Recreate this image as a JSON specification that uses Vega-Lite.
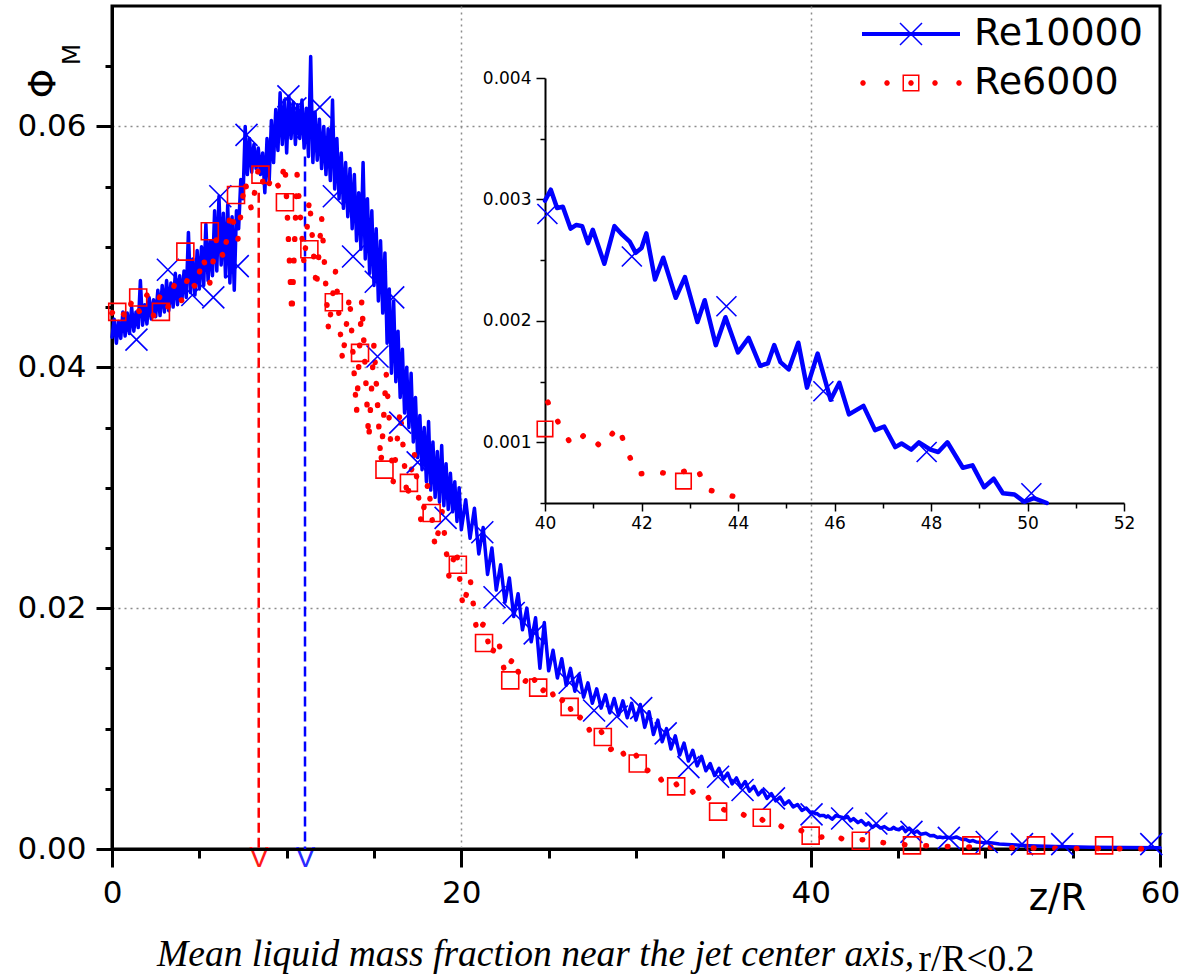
{
"$schema": "https://vega.github.io/schema/vega-lite/v6.json",
"width": 1048,
"height": 843,
"autosize": "none",
"padding": {"left": 112, "top": 6, "right": 23, "bottom": 128},
"background": "white",
"config": {"view": {"stroke": "black", "strokeWidth": 3}, "font": "DejaVu Sans"},
"title": {"text": "Mean liquid mass fraction near the jet center axis,", "orient": "bottom", "anchor": "start", "frame": "group", "dx": 45, "offset": -42, "font": "Liberation Serif", "fontStyle": "italic", "fontWeight": "normal", "fontSize": 37.5, "color": "black"},
"datasets": {
"lines": [
{"s":"Re10000","z":0,"p":0.0425},{"s":"Re10000","z":0.125,"p":0.044},{"s":"Re10000","z":0.25,"p":0.042},{"s":"Re10000","z":0.375,"p":0.0438},{"s":"Re10000","z":0.5,"p":0.0424},{"s":"Re10000","z":0.625,"p":0.0446},{"s":"Re10000","z":0.75,"p":0.0426},{"s":"Re10000","z":0.875,"p":0.0445},{"s":"Re10000","z":1,"p":0.0428},{"s":"Re10000","z":1.125,"p":0.045},{"s":"Re10000","z":1.25,"p":0.043},{"s":"Re10000","z":1.375,"p":0.0446},{"s":"Re10000","z":1.5,"p":0.0433},{"s":"Re10000","z":1.625,"p":0.0472},{"s":"Re10000","z":1.75,"p":0.0435},{"s":"Re10000","z":1.875,"p":0.0452},{"s":"Re10000","z":2,"p":0.0436},{"s":"Re10000","z":2.125,"p":0.0458},{"s":"Re10000","z":2.25,"p":0.044},{"s":"Re10000","z":2.375,"p":0.0456},{"s":"Re10000","z":2.5,"p":0.0442},{"s":"Re10000","z":2.625,"p":0.0464},{"s":"Re10000","z":2.75,"p":0.0443},{"s":"Re10000","z":2.875,"p":0.0468},{"s":"Re10000","z":3,"p":0.0446},{"s":"Re10000","z":3.125,"p":0.0472},{"s":"Re10000","z":3.25,"p":0.0447},{"s":"Re10000","z":3.375,"p":0.047},{"s":"Re10000","z":3.5,"p":0.045},{"s":"Re10000","z":3.625,"p":0.0478},{"s":"Re10000","z":3.75,"p":0.0452},{"s":"Re10000","z":3.875,"p":0.0476},{"s":"Re10000","z":4,"p":0.0455},{"s":"Re10000","z":4.125,"p":0.048},{"s":"Re10000","z":4.25,"p":0.0458},{"s":"Re10000","z":4.375,"p":0.0512},{"s":"Re10000","z":4.5,"p":0.0462},{"s":"Re10000","z":4.625,"p":0.049},{"s":"Re10000","z":4.75,"p":0.046},{"s":"Re10000","z":4.875,"p":0.0497},{"s":"Re10000","z":5,"p":0.0465},{"s":"Re10000","z":5.125,"p":0.05},{"s":"Re10000","z":5.25,"p":0.0468},{"s":"Re10000","z":5.375,"p":0.0519},{"s":"Re10000","z":5.5,"p":0.0472},{"s":"Re10000","z":5.625,"p":0.0505},{"s":"Re10000","z":5.75,"p":0.0476},{"s":"Re10000","z":5.875,"p":0.053},{"s":"Re10000","z":6,"p":0.048},{"s":"Re10000","z":6.125,"p":0.0542},{"s":"Re10000","z":6.25,"p":0.0485},{"s":"Re10000","z":6.375,"p":0.0528},{"s":"Re10000","z":6.5,"p":0.0475},{"s":"Re10000","z":6.625,"p":0.0535},{"s":"Re10000","z":6.75,"p":0.047},{"s":"Re10000","z":6.875,"p":0.0525},{"s":"Re10000","z":7,"p":0.0464},{"s":"Re10000","z":7.125,"p":0.053},{"s":"Re10000","z":7.25,"p":0.0515},{"s":"Re10000","z":7.375,"p":0.0556},{"s":"Re10000","z":7.5,"p":0.054},{"s":"Re10000","z":7.625,"p":0.06},{"s":"Re10000","z":7.75,"p":0.056},{"s":"Re10000","z":7.875,"p":0.059},{"s":"Re10000","z":8,"p":0.0562},{"s":"Re10000","z":8.125,"p":0.0585},{"s":"Re10000","z":8.25,"p":0.0565},{"s":"Re10000","z":8.375,"p":0.0582},{"s":"Re10000","z":8.5,"p":0.056},{"s":"Re10000","z":8.625,"p":0.0578},{"s":"Re10000","z":8.75,"p":0.0545},{"s":"Re10000","z":8.875,"p":0.059},{"s":"Re10000","z":9,"p":0.0555},{"s":"Re10000","z":9.125,"p":0.0605},{"s":"Re10000","z":9.25,"p":0.057},{"s":"Re10000","z":9.375,"p":0.0614},{"s":"Re10000","z":9.5,"p":0.058},{"s":"Re10000","z":9.625,"p":0.0628},{"s":"Re10000","z":9.75,"p":0.0585},{"s":"Re10000","z":9.875,"p":0.0622},{"s":"Re10000","z":10,"p":0.0578},{"s":"Re10000","z":10.125,"p":0.0625},{"s":"Re10000","z":10.25,"p":0.059},{"s":"Re10000","z":10.375,"p":0.062},{"s":"Re10000","z":10.5,"p":0.0585},{"s":"Re10000","z":10.625,"p":0.0618},{"s":"Re10000","z":10.75,"p":0.059},{"s":"Re10000","z":10.875,"p":0.0622},{"s":"Re10000","z":11,"p":0.0582},{"s":"Re10000","z":11.125,"p":0.0615},{"s":"Re10000","z":11.25,"p":0.0575},{"s":"Re10000","z":11.375,"p":0.0658},{"s":"Re10000","z":11.5,"p":0.057},{"s":"Re10000","z":11.625,"p":0.0612},{"s":"Re10000","z":11.75,"p":0.0572},{"s":"Re10000","z":11.875,"p":0.0606},{"s":"Re10000","z":12,"p":0.0565},{"s":"Re10000","z":12.125,"p":0.06},{"s":"Re10000","z":12.25,"p":0.056},{"s":"Re10000","z":12.375,"p":0.0598},{"s":"Re10000","z":12.5,"p":0.0555},{"s":"Re10000","z":12.625,"p":0.0622},{"s":"Re10000","z":12.75,"p":0.0548},{"s":"Re10000","z":12.875,"p":0.059},{"s":"Re10000","z":13,"p":0.054},{"s":"Re10000","z":13.125,"p":0.0578},{"s":"Re10000","z":13.25,"p":0.0532},{"s":"Re10000","z":13.375,"p":0.057},{"s":"Re10000","z":13.5,"p":0.0525},{"s":"Re10000","z":13.625,"p":0.0565},{"s":"Re10000","z":13.75,"p":0.0515},{"s":"Re10000","z":13.875,"p":0.056},{"s":"Re10000","z":14,"p":0.0505},{"s":"Re10000","z":14.125,"p":0.0545},{"s":"Re10000","z":14.25,"p":0.0498},{"s":"Re10000","z":14.375,"p":0.057},{"s":"Re10000","z":14.5,"p":0.049},{"s":"Re10000","z":14.625,"p":0.054},{"s":"Re10000","z":14.75,"p":0.0478},{"s":"Re10000","z":14.875,"p":0.053},{"s":"Re10000","z":15,"p":0.0468},{"s":"Re10000","z":15.125,"p":0.0515},{"s":"Re10000","z":15.25,"p":0.0455},{"s":"Re10000","z":15.375,"p":0.0505},{"s":"Re10000","z":15.5,"p":0.0445},{"s":"Re10000","z":15.625,"p":0.0495},{"s":"Re10000","z":15.75,"p":0.042},{"s":"Re10000","z":15.875,"p":0.0465},{"s":"Re10000","z":16,"p":0.0395},{"s":"Re10000","z":16.125,"p":0.0455},{"s":"Re10000","z":16.25,"p":0.0388},{"s":"Re10000","z":16.375,"p":0.043},{"s":"Re10000","z":16.5,"p":0.0375},{"s":"Re10000","z":16.625,"p":0.0415},{"s":"Re10000","z":16.75,"p":0.0362},{"s":"Re10000","z":16.875,"p":0.04},{"s":"Re10000","z":17,"p":0.035},{"s":"Re10000","z":17.125,"p":0.0395},{"s":"Re10000","z":17.25,"p":0.0338},{"s":"Re10000","z":17.375,"p":0.0375},{"s":"Re10000","z":17.5,"p":0.0325},{"s":"Re10000","z":17.625,"p":0.036},{"s":"Re10000","z":17.75,"p":0.0315},{"s":"Re10000","z":17.875,"p":0.035},{"s":"Re10000","z":18,"p":0.0305},{"s":"Re10000","z":18.125,"p":0.0355},{"s":"Re10000","z":18.25,"p":0.0298},{"s":"Re10000","z":18.375,"p":0.0338},{"s":"Re10000","z":18.5,"p":0.0292},{"s":"Re10000","z":18.625,"p":0.033},{"s":"Re10000","z":18.75,"p":0.0288},{"s":"Re10000","z":18.875,"p":0.0335},{"s":"Re10000","z":19,"p":0.0285},{"s":"Re10000","z":19.125,"p":0.032},{"s":"Re10000","z":19.25,"p":0.0282},{"s":"Re10000","z":19.375,"p":0.0312},{"s":"Re10000","z":19.5,"p":0.028},{"s":"Re10000","z":19.625,"p":0.0305},{"s":"Re10000","z":19.75,"p":0.0272},{"s":"Re10000","z":19.875,"p":0.03},{"s":"Re10000","z":20,"p":0.0265},{"s":"Re10000","z":20.25,"p":0.029},{"s":"Re10000","z":20.5,"p":0.0258},{"s":"Re10000","z":20.75,"p":0.0283},{"s":"Re10000","z":21,"p":0.0245},{"s":"Re10000","z":21.25,"p":0.0267},{"s":"Re10000","z":21.5,"p":0.0228},{"s":"Re10000","z":21.75,"p":0.025},{"s":"Re10000","z":22,"p":0.0215},{"s":"Re10000","z":22.25,"p":0.0236},{"s":"Re10000","z":22.5,"p":0.0205},{"s":"Re10000","z":22.75,"p":0.0225},{"s":"Re10000","z":23,"p":0.0193},{"s":"Re10000","z":23.25,"p":0.0212},{"s":"Re10000","z":23.5,"p":0.0182},{"s":"Re10000","z":23.75,"p":0.02},{"s":"Re10000","z":24,"p":0.0172},{"s":"Re10000","z":24.25,"p":0.0192},{"s":"Re10000","z":24.5,"p":0.015},{"s":"Re10000","z":24.75,"p":0.0188},{"s":"Re10000","z":25,"p":0.0148},{"s":"Re10000","z":25.25,"p":0.0165},{"s":"Re10000","z":25.5,"p":0.0142},{"s":"Re10000","z":25.75,"p":0.0158},{"s":"Re10000","z":26,"p":0.0136},{"s":"Re10000","z":26.25,"p":0.015},{"s":"Re10000","z":26.5,"p":0.0131},{"s":"Re10000","z":26.75,"p":0.0145},{"s":"Re10000","z":27,"p":0.0126},{"s":"Re10000","z":27.25,"p":0.0138},{"s":"Re10000","z":27.5,"p":0.0121},{"s":"Re10000","z":27.75,"p":0.0133},{"s":"Re10000","z":28,"p":0.0117},{"s":"Re10000","z":28.25,"p":0.0128},{"s":"Re10000","z":28.5,"p":0.0113},{"s":"Re10000","z":28.75,"p":0.0125},{"s":"Re10000","z":29,"p":0.0111},{"s":"Re10000","z":29.25,"p":0.0123},{"s":"Re10000","z":29.5,"p":0.0109},{"s":"Re10000","z":29.75,"p":0.0121},{"s":"Re10000","z":30,"p":0.0107},{"s":"Re10000","z":30.25,"p":0.012},{"s":"Re10000","z":30.5,"p":0.0101},{"s":"Re10000","z":30.75,"p":0.0114},{"s":"Re10000","z":31,"p":0.0095},{"s":"Re10000","z":31.25,"p":0.0107},{"s":"Re10000","z":31.5,"p":0.0089},{"s":"Re10000","z":31.75,"p":0.01},{"s":"Re10000","z":32,"p":0.0083},{"s":"Re10000","z":32.25,"p":0.0094},{"s":"Re10000","z":32.5,"p":0.0078},{"s":"Re10000","z":32.75,"p":0.0088},{"s":"Re10000","z":33,"p":0.0073},{"s":"Re10000","z":33.25,"p":0.0082},{"s":"Re10000","z":33.5,"p":0.0069},{"s":"Re10000","z":33.75,"p":0.0077},{"s":"Re10000","z":34,"p":0.0065},{"s":"Re10000","z":34.25,"p":0.0071},{"s":"Re10000","z":34.5,"p":0.0061},{"s":"Re10000","z":34.75,"p":0.0067},{"s":"Re10000","z":35,"p":0.0058},{"s":"Re10000","z":35.25,"p":0.0063},{"s":"Re10000","z":35.5,"p":0.0054},{"s":"Re10000","z":35.75,"p":0.0059},{"s":"Re10000","z":36,"p":0.0051},{"s":"Re10000","z":36.25,"p":0.0056},{"s":"Re10000","z":36.5,"p":0.0048},{"s":"Re10000","z":36.75,"p":0.0052},{"s":"Re10000","z":37,"p":0.0045},{"s":"Re10000","z":37.25,"p":0.0049},{"s":"Re10000","z":37.5,"p":0.0042},{"s":"Re10000","z":37.75,"p":0.0046},{"s":"Re10000","z":38,"p":0.004},{"s":"Re10000","z":38.25,"p":0.0043},{"s":"Re10000","z":38.5,"p":0.0037},{"s":"Re10000","z":38.75,"p":0.004},{"s":"Re10000","z":39,"p":0.0035},{"s":"Re10000","z":39.25,"p":0.0037},{"s":"Re10000","z":39.5,"p":0.0032},{"s":"Re10000","z":39.75,"p":0.0034},
{"s":"Re10000","z":40,"p":0.00299},{"s":"Re10000","z":40.12,"p":0.00308},{"s":"Re10000","z":40.25,"p":0.00293},{"s":"Re10000","z":40.37,"p":0.00294},{"s":"Re10000","z":40.53,"p":0.00276},{"s":"Re10000","z":40.65,"p":0.00279},{"s":"Re10000","z":40.77,"p":0.00278},{"s":"Re10000","z":40.89,"p":0.00264},{"s":"Re10000","z":40.99,"p":0.00275},{"s":"Re10000","z":41.23,"p":0.00247},{"s":"Re10000","z":41.44,"p":0.00278},{"s":"Re10000","z":41.6,"p":0.00271},{"s":"Re10000","z":41.76,"p":0.00265},{"s":"Re10000","z":41.88,"p":0.00256},{"s":"Re10000","z":42,"p":0.0026},{"s":"Re10000","z":42.1,"p":0.00272},{"s":"Re10000","z":42.28,"p":0.00234},{"s":"Re10000","z":42.45,"p":0.00252},{"s":"Re10000","z":42.71,"p":0.00219},{"s":"Re10000","z":42.9,"p":0.00236},{"s":"Re10000","z":43.16,"p":0.00199},{"s":"Re10000","z":43.31,"p":0.00217},{"s":"Re10000","z":43.54,"p":0.0018},{"s":"Re10000","z":43.74,"p":0.00203},{"s":"Re10000","z":44,"p":0.00174},{"s":"Re10000","z":44.22,"p":0.00186},{"s":"Re10000","z":44.46,"p":0.00163},{"s":"Re10000","z":44.62,"p":0.00165},{"s":"Re10000","z":44.75,"p":0.0018},{"s":"Re10000","z":44.88,"p":0.00166},{"s":"Re10000","z":45.05,"p":0.0016},{"s":"Re10000","z":45.25,"p":0.00182},{"s":"Re10000","z":45.43,"p":0.00145},{"s":"Re10000","z":45.65,"p":0.00173},{"s":"Re10000","z":45.92,"p":0.00135},{"s":"Re10000","z":46.1,"p":0.00149},{"s":"Re10000","z":46.3,"p":0.00123},{"s":"Re10000","z":46.6,"p":0.0013},{"s":"Re10000","z":46.84,"p":0.0011},{"s":"Re10000","z":47.03,"p":0.00113},{"s":"Re10000","z":47.26,"p":0.00096},{"s":"Re10000","z":47.39,"p":0.00099},{"s":"Re10000","z":47.59,"p":0.00094},{"s":"Re10000","z":47.75,"p":0.001},{"s":"Re10000","z":47.99,"p":0.00094},{"s":"Re10000","z":48.15,"p":0.00092},{"s":"Re10000","z":48.34,"p":0.001},{"s":"Re10000","z":48.66,"p":0.00079},{"s":"Re10000","z":48.86,"p":0.00081},{"s":"Re10000","z":49.1,"p":0.00063},{"s":"Re10000","z":49.3,"p":0.0007},{"s":"Re10000","z":49.49,"p":0.00058},{"s":"Re10000","z":49.73,"p":0.00057},{"s":"Re10000","z":49.93,"p":0.00051},{"s":"Re10000","z":50.13,"p":0.00054},{"s":"Re10000","z":50.4,"p":0.0005},{"s":"Re10000","z":50.8,"p":0.00042},{"s":"Re10000","z":51.5,"p":0.00035},{"s":"Re10000","z":52.5,"p":0.00028},{"s":"Re10000","z":54,"p":0.0002},{"s":"Re10000","z":56,"p":0.00015},{"s":"Re10000","z":58,"p":0.00012},{"s":"Re10000","z":60,"p":0.0001},
{"s":"Re6000","z":0,"p":0.0445},{"s":"Re6000","z":0.4,"p":0.0452},{"s":"Re6000","z":0.8,"p":0.044},{"s":"Re6000","z":1.2,"p":0.0458},{"s":"Re6000","z":1.6,"p":0.0445},{"s":"Re6000","z":2,"p":0.046},{"s":"Re6000","z":2.4,"p":0.0442},{"s":"Re6000","z":2.8,"p":0.0462},{"s":"Re6000","z":3.2,"p":0.045},{"s":"Re6000","z":3.6,"p":0.047},{"s":"Re6000","z":4,"p":0.0455},{"s":"Re6000","z":4.4,"p":0.0478},{"s":"Re6000","z":4.8,"p":0.0465},{"s":"Re6000","z":5.2,"p":0.0492},{"s":"Re6000","z":5.6,"p":0.047},{"s":"Re6000","z":6,"p":0.0508},{"s":"Re6000","z":6.4,"p":0.049},{"s":"Re6000","z":6.8,"p":0.053},{"s":"Re6000","z":7.2,"p":0.0505},{"s":"Re6000","z":7.6,"p":0.0555},{"s":"Re6000","z":8,"p":0.053},{"s":"Re6000","z":8.4,"p":0.0567},{"s":"Re6000","z":8.8,"p":0.0545},{"s":"Re6000","z":9.2,"p":0.056},{"s":"Re6000","z":9.6,"p":0.0548},{"s":"Re6000","z":9.9,"p":0.057},{"s":"Re6000","z":10.3,"p":0.0444},{"s":"Re6000","z":10.6,"p":0.056},{"s":"Re6000","z":11,"p":0.0485},{"s":"Re6000","z":11.3,"p":0.054},{"s":"Re6000","z":11.7,"p":0.0465},{"s":"Re6000","z":12,"p":0.0525},{"s":"Re6000","z":12.4,"p":0.043},{"s":"Re6000","z":12.8,"p":0.048},{"s":"Re6000","z":13.2,"p":0.0405},{"s":"Re6000","z":13.6,"p":0.046},{"s":"Re6000","z":14,"p":0.0362},{"s":"Re6000","z":14.3,"p":0.0456},{"s":"Re6000","z":14.7,"p":0.034},{"s":"Re6000","z":15,"p":0.042},{"s":"Re6000","z":15.4,"p":0.032},{"s":"Re6000","z":15.7,"p":0.0395},{"s":"Re6000","z":16.1,"p":0.0305},{"s":"Re6000","z":16.5,"p":0.0365},{"s":"Re6000","z":16.9,"p":0.029},{"s":"Re6000","z":17.3,"p":0.033},{"s":"Re6000","z":17.7,"p":0.027},{"s":"Re6000","z":18.1,"p":0.0305},{"s":"Re6000","z":18.5,"p":0.025},{"s":"Re6000","z":18.9,"p":0.028},{"s":"Re6000","z":19.3,"p":0.0225},{"s":"Re6000","z":19.7,"p":0.025},{"s":"Re6000","z":20.1,"p":0.02},{"s":"Re6000","z":20.5,"p":0.0225},{"s":"Re6000","z":20.9,"p":0.0178},{"s":"Re6000","z":21.3,"p":0.0188},{"s":"Re6000","z":21.7,"p":0.016},{"s":"Re6000","z":22.1,"p":0.0175},{"s":"Re6000","z":22.5,"p":0.0145},{"s":"Re6000","z":23,"p":0.016},{"s":"Re6000","z":23.5,"p":0.0135},{"s":"Re6000","z":24,"p":0.0148},{"s":"Re6000","z":24.5,"p":0.0128},{"s":"Re6000","z":25,"p":0.0138},{"s":"Re6000","z":25.5,"p":0.0118},{"s":"Re6000","z":26,"p":0.0128},{"s":"Re6000","z":26.5,"p":0.0105},{"s":"Re6000","z":27,"p":0.0112},{"s":"Re6000","z":27.5,"p":0.0092},{"s":"Re6000","z":28,"p":0.0098},{"s":"Re6000","z":28.5,"p":0.0082},{"s":"Re6000","z":29,"p":0.0088},{"s":"Re6000","z":29.5,"p":0.0072},{"s":"Re6000","z":30,"p":0.0078},{"s":"Re6000","z":30.5,"p":0.0064},{"s":"Re6000","z":31,"p":0.0068},{"s":"Re6000","z":31.5,"p":0.0056},{"s":"Re6000","z":32,"p":0.006},{"s":"Re6000","z":32.5,"p":0.005},{"s":"Re6000","z":33,"p":0.0052},{"s":"Re6000","z":33.5,"p":0.0043},{"s":"Re6000","z":34,"p":0.0046},{"s":"Re6000","z":34.5,"p":0.0034},{"s":"Re6000","z":35,"p":0.0033},{"s":"Re6000","z":35.5,"p":0.0029},{"s":"Re6000","z":36,"p":0.003},{"s":"Re6000","z":36.5,"p":0.0025},{"s":"Re6000","z":37,"p":0.0027},{"s":"Re6000","z":37.5,"p":0.0021},{"s":"Re6000","z":38,"p":0.0022},{"s":"Re6000","z":38.5,"p":0.0017},{"s":"Re6000","z":39,"p":0.0018},{"s":"Re6000","z":39.5,"p":0.0015},{"s":"Re6000","z":40.06,"p":0.00133},{"s":"Re6000","z":40.28,"p":0.00116},{"s":"Re6000","z":40.56,"p":0.00097},{"s":"Re6000","z":40.87,"p":0.00108},{"s":"Re6000","z":41.16,"p":0.00096},{"s":"Re6000","z":41.52,"p":0.00113},{"s":"Re6000","z":41.72,"p":0.00091},{"s":"Re6000","z":41.92,"p":0.00074},{"s":"Re6000","z":42.37,"p":0.00075},{"s":"Re6000","z":42.75,"p":0.00074},{"s":"Re6000","z":43.13,"p":0.0008},{"s":"Re6000","z":43.37,"p":0.00061},{"s":"Re6000","z":44.14,"p":0.00053},{"s":"Re6000","z":44.5,"p":0.00045},{"s":"Re6000","z":45,"p":0.0004},{"s":"Re6000","z":46,"p":0.0003},{"s":"Re6000","z":47,"p":0.00025},{"s":"Re6000","z":48,"p":0.0002},{"s":"Re6000","z":50,"p":0.00015},{"s":"Re6000","z":52,"p":0.0001},{"s":"Re6000","z":55,"p":0.00005},{"s":"Re6000","z":60,"p":0}
],
"markers": [
{"s":"Re10000","z":1.4,"p":0.0423},{"s":"Re10000","z":3.2,"p":0.0481},{"s":"Re10000","z":4.6,"p":0.046},{"s":"Re10000","z":5.8,"p":0.0458},{"s":"Re10000","z":6.2,"p":0.0542},{"s":"Re10000","z":7.2,"p":0.0484},{"s":"Re10000","z":7.7,"p":0.0593},{"s":"Re10000","z":10.1,"p":0.0625},{"s":"Re10000","z":10.5,"p":0.0615},{"s":"Re10000","z":11.1,"p":0.0598},{"s":"Re10000","z":11.9,"p":0.0616},{"s":"Re10000","z":12.7,"p":0.0542},{"s":"Re10000","z":13.8,"p":0.0492},{"s":"Re10000","z":15.1,"p":0.0471},{"s":"Re10000","z":15.2,"p":0.0409},{"s":"Re10000","z":16.1,"p":0.0458},{"s":"Re10000","z":16.5,"p":0.0354},{"s":"Re10000","z":17.5,"p":0.0321},{"s":"Re10000","z":19.1,"p":0.0275},{"s":"Re10000","z":21.2,"p":0.0263},{"s":"Re10000","z":21.9,"p":0.0209},{"s":"Re10000","z":23,"p":0.0196},{"s":"Re10000","z":24.2,"p":0.0179},{"s":"Re10000","z":26.2,"p":0.0138},{"s":"Re10000","z":27.6,"p":0.0115},{"s":"Re10000","z":28.9,"p":0.011},{"s":"Re10000","z":30.3,"p":0.0117},{"s":"Re10000","z":31.7,"p":0.0096},{"s":"Re10000","z":33,"p":0.0068},{"s":"Re10000","z":34.7,"p":0.006},{"s":"Re10000","z":36.1,"p":0.0049},{"s":"Re10000","z":37.9,"p":0.0042},{"s":"Re10000","z":40.05,"p":0.00288},{"s":"Re10000","z":41.8,"p":0.00253},{"s":"Re10000","z":43.76,"p":0.00212},{"s":"Re10000","z":45.77,"p":0.00142},{"s":"Re10000","z":47.91,"p":0.00092},{"s":"Re10000","z":50.08,"p":0.00058},{"s":"Re10000","z":52.1,"p":0.0004},{"s":"Re10000","z":54.4,"p":0.0004},{"s":"Re10000","z":59.5,"p":0.0004},
{"s":"Re6000","z":0.3,"p":0.0446},{"s":"Re6000","z":1.5,"p":0.0458},{"s":"Re6000","z":2.8,"p":0.0446},{"s":"Re6000","z":4.2,"p":0.0496},{"s":"Re6000","z":5.6,"p":0.0513},{"s":"Re6000","z":7.1,"p":0.0543},{"s":"Re6000","z":8.5,"p":0.056},{"s":"Re6000","z":9.9,"p":0.0537},{"s":"Re6000","z":11.3,"p":0.0498},{"s":"Re6000","z":12.7,"p":0.0454},{"s":"Re6000","z":14.2,"p":0.0412},{"s":"Re6000","z":15.6,"p":0.0315},{"s":"Re6000","z":17,"p":0.0304},{"s":"Re6000","z":18.3,"p":0.0279},{"s":"Re6000","z":19.8,"p":0.0236},{"s":"Re6000","z":21.3,"p":0.0171},{"s":"Re6000","z":22.8,"p":0.014},{"s":"Re6000","z":24.4,"p":0.0134},{"s":"Re6000","z":26.2,"p":0.0118},{"s":"Re6000","z":28.1,"p":0.0093},{"s":"Re6000","z":30.1,"p":0.0071},{"s":"Re6000","z":32.3,"p":0.0052},{"s":"Re6000","z":34.7,"p":0.0031},{"s":"Re6000","z":37.2,"p":0.0026},{"s":"Re6000","z":40,"p":0.00111},{"s":"Re6000","z":42.87,"p":0.00068},{"s":"Re6000","z":45.8,"p":0.0003},{"s":"Re6000","z":49.2,"p":0.0003},{"s":"Re6000","z":52.9,"p":0.0003},{"s":"Re6000","z":56.8,"p":0.0003}
],
"peaks": [{"s":"Re6000","zp":8.4,"top":0.0545},{"s":"Re10000","zp":11.05,"top":0.0575}]
},
"resolve": {"scale": {"x": "independent", "y": "independent"}},
"layer": [
{"data": {"name": "peaks"}, "mark": {"type": "rule", "strokeDash": [10, 5], "strokeWidth": 2.5},
 "encoding": {
  "x": {"field": "zp", "type": "quantitative", "scale": {"domain": [0, 60], "nice": false, "zero": false},
   "axis": {"orient": "bottom", "values": [8.4, 11.05], "domain": false, "ticks": false, "tickSize": 0, "grid": false, "title": null, "labelExpr": "'V'", "labelFont": "Liberation Sans", "labelFontSize": 29, "labelPadding": 17, "labelBaseline": "alphabetic", "labelColor": {"condition": {"test": "datum.value < 10", "value": "#ff1a1a"}, "value": "#2a2aff"}, "labelFlush": false, "labelOverlap": false}},
  "y": {"field": "top", "type": "quantitative", "scale": {"domain": [0, 0.07], "nice": false, "zero": false}, "axis": null},
  "y2": {"datum": 0},
  "color": {"field": "s", "type": "nominal", "scale": {"domain": ["Re10000", "Re6000"], "range": ["#0000ff", "#ff0000"]}}}},
{
"encoding": {
"x": {"field": "z", "type": "quantitative", "scale": {"domain": [0, 60], "nice": false, "zero": false},
 "axis": {"orient": "bottom", "values": [0,5,10,15,20,25,30,35,40,45,50,55,60], "labelExpr": "datum.value % 20 === 0 ? datum.label : ''", "labelFontSize": 31, "labelColor": "black", "labelFont": "DejaVu Sans", "labelPadding": 11, "labelFlush": false, "labelOverlap": false,
  "tickSize": {"condition": {"test": "datum.value % 20 === 0", "value": 18}, "value": 9}, "tickWidth": 3, "tickColor": "black", "domainColor": "black", "domainWidth": 3,
  "grid": true, "gridColor": "#8c8c8c", "gridDash": [2, 4], "gridWidth": 1.5, "gridOpacity": {"condition": {"test": "datum.value === 20 || datum.value === 40", "value": 1}, "value": 0},
  "title": "z/R", "titleFontSize": 37, "titleFontWeight": "normal", "titleColor": "black", "titleFont": "DejaVu Sans", "titleX": 945, "titleY": 60, "titleAlign": "center", "titleBaseline": "alphabetic"}},
"y": {"field": "p", "type": "quantitative", "scale": {"domain": [0, 0.07], "nice": false, "zero": false},
 "axis": {"orient": "left", "values": [0,0.005,0.01,0.015,0.02,0.025,0.03,0.035,0.04,0.045,0.05,0.055,0.06,0.065], "labelExpr": "abs(datum.value*50 - round(datum.value*50)) < 1e-6 ? format(datum.value, '.2f') : ''", "labelFontSize": 31, "labelColor": "black", "labelFont": "DejaVu Sans", "labelPadding": 10, "labelFlush": false, "labelOverlap": false,
  "tickSize": {"condition": {"test": "abs(datum.value*50 - round(datum.value*50)) < 1e-6", "value": 16}, "value": 7}, "tickWidth": 3, "tickColor": "black", "domainColor": "black", "domainWidth": 3,
  "grid": true, "gridColor": "#8c8c8c", "gridDash": [2, 4], "gridWidth": 1.5, "gridOpacity": {"condition": {"test": "datum.value > 0.001 && abs(datum.value*50 - round(datum.value*50)) < 1e-6", "value": 1}, "value": 0},
  "title": "Φ", "titleAngle": 270, "titleX": -69, "titleY": 77, "titleAlign": "center", "titleBaseline": "middle", "titleFontSize": 38, "titleFontWeight": "normal", "titleColor": "black", "titleFont": "DejaVu Sans"}}
},
"layer": [
{"data": {"name": "lines"}, "transform": [{"filter": "datum.s === 'Re10000'"}], "mark": {"type": "line", "strokeWidth": 3.5, "strokeJoin": "round", "strokeCap": "round"},
 "encoding": {"color": {"field": "s", "type": "nominal", "scale": {"domain": ["Re10000", "Re6000"], "range": ["#0000ff", "#ff0000"]},
  "legend": {"orient": "none", "legendX": 774, "legendY": 3, "title": null, "padding": 0, "labelFont": "DejaVu Sans", "labelFontSize": 38, "labelColor": "black", "labelOffset": 38, "labelLimit": 0, "symbolSize": 2500, "symbolStrokeWidth": 0, "rowPadding": 5,
   "encode": {"symbols": {"update": {
    "shape": {"signal": "datum.value === 'Re10000' ? 'M-1.96,-0.08H1.96V0.08H-1.96ZM-0.4188,-0.4612L0.4612,0.4188L0.4188,0.4612L-0.4612,-0.4188ZM-0.4188,0.4612L-0.4612,0.4188L0.4188,-0.4612L0.4612,-0.4188Z' : 'M-1.8137,0.044L-1.876,0.1063L-1.964,0.1063L-2.0263,0.044L-2.0263,-0.044L-1.964,-0.1063L-1.876,-0.1063L-1.8137,-0.044ZM-0.8537,0.044L-0.916,0.1063L-1.004,0.1063L-1.0663,0.044L-1.0663,-0.044L-1.004,-0.1063L-0.916,-0.1063L-0.8537,-0.044ZM0.1063,0.044L0.044,0.1063L-0.044,0.1063L-0.1063,0.044L-0.1063,-0.044L-0.044,-0.1063L0.044,-0.1063L0.1063,-0.044ZM1.0663,0.044L1.004,0.1063L0.916,0.1063L0.8537,0.044L0.8537,-0.044L0.916,-0.1063L1.004,-0.1063L1.0663,-0.044ZM2.0263,0.044L1.964,0.1063L1.876,0.1063L1.8137,0.044L1.8137,-0.044L1.876,-0.1063L1.964,-0.1063L2.0263,-0.044ZM-0.34,-0.34H0.34V0.34H-0.34ZM-0.28,-0.28V0.28H0.28V-0.28Z'"},
    "fill": {"signal": "scale('color', datum.value)"}, "fillOpacity": {"value": 1}, "stroke": {"value": "transparent"}, "strokeWidth": {"value": 0}, "opacity": {"value": 1}}}}}}}},
{"data": {"name": "lines"}, "transform": [{"filter": "datum.s === 'Re6000'"}], "mark": {"type": "line", "strokeWidth": 5.5, "strokeDash": [0.5, 21], "strokeCap": "round", "strokeJoin": "round"},
 "encoding": {"color": {"field": "s", "type": "nominal", "scale": {"domain": ["Re10000", "Re6000"], "range": ["#0000ff", "#ff0000"]}}}},
{"data": {"name": "markers"}, "transform": [{"filter": "datum.s === 'Re10000'"}], "mark": {"type": "point", "shape": "M-1,-1L1,1M-1,1L1,-1", "filled": false, "strokeWidth": 1.6, "size": 484, "opacity": 1},
 "encoding": {"color": {"field": "s", "type": "nominal", "scale": {"domain": ["Re10000", "Re6000"], "range": ["#0000ff", "#ff0000"]}}}},
{"data": {"name": "markers"}, "transform": [{"filter": "datum.s === 'Re6000'"}], "mark": {"type": "point", "shape": "square", "filled": false, "strokeWidth": 1.6, "size": 289, "opacity": 1},
 "encoding": {"color": {"field": "s", "type": "nominal", "scale": {"domain": ["Re10000", "Re6000"], "range": ["#0000ff", "#ff0000"]}}}},
{"data": {"values": [{}]}, "mark": {"type": "rect", "fill": "#c8c8c8", "fillOpacity": 0.45, "stroke": "#7f7f7f", "strokeWidth": 2},
 "encoding": {"x": {"datum": 39.8}, "x2": {"datum": 51.5}, "y": {"datum": 0}, "y2": {"datum": 0.006}}},
{"data": {"values": [{}]}, "mark": {"type": "rule", "color": "#808080", "strokeWidth": 2.5},
 "encoding": {"x": {"datum": 47.16}, "y": {"datum": 0.01055}, "x2": {"datum": 44.11}, "y2": {"datum": 0.02294}}},
{"data": {"values": [{}]}, "mark": {"type": "point", "shape": "triangle-up", "size": 150, "filled": true, "color": "#808080", "opacity": 1, "angle": 340.4},
 "encoding": {"x": {"datum": 44.11}, "y": {"datum": 0.02294}}}
]
},
{
"encoding": {
"x": {"field": "z", "type": "quantitative", "scale": {"domain": [40, 52], "range": [433, 1012], "nice": false, "zero": false},
 "axis": {"orient": "bottom", "offset": -346, "values": [40,41,42,43,44,45,46,47,48,49,50,51,52], "domain": true, "domainColor": "black", "domainWidth": 2, "grid": false, "labelExpr": "datum.value % 2 === 0 ? datum.label : ''", "labelFontSize": 17, "labelColor": "black", "labelFont": "DejaVu Sans", "labelPadding": 4, "labelFlush": false, "labelOverlap": false, "tickColor": "black", "tickWidth": 1.5, "tickSize": {"condition": {"test": "datum.value % 2 === 0", "value": 8}, "value": 5},
  "title": "r/R<0.2", "titleFont": "Liberation Serif", "titleFontSize": 37.5, "titleFontWeight": "normal", "titleColor": "black", "titleX": 806, "titleY": 467, "titleAlign": "left", "titleBaseline": "alphabetic", "titleAngle": 0}},
"y": {"field": "p", "type": "quantitative", "scale": {"domain": [0.0005, 0.004], "range": [497, 72], "nice": false, "zero": false},
 "axis": {"orient": "left", "offset": -433, "values": [0.0005,0.001,0.0015,0.002,0.0025,0.003,0.0035,0.004], "domain": true, "domainColor": "black", "domainWidth": 2, "grid": false, "labelExpr": "datum.value > 0.0007 && abs(datum.value*1000 - round(datum.value*1000)) < 1e-6 ? format(datum.value, '.3f') : ''", "labelFontSize": 17, "labelColor": "black", "labelFont": "DejaVu Sans", "labelPadding": 5, "labelFlush": false, "labelOverlap": false, "tickColor": "black", "tickWidth": 1.5, "tickSize": {"condition": {"test": "abs(datum.value*1000 - round(datum.value*1000)) < 1e-6", "value": 9}, "value": 5},
  "title": "M", "titleFont": "DejaVu Sans", "titleFontSize": 25, "titleFontWeight": "normal", "titleColor": "black", "titleX": -474, "titleY": 48, "titleAngle": 270, "titleAlign": "center", "titleBaseline": "middle"}}
},
"layer": [
{"data": {"name": "lines"}, "transform": [{"filter": "datum.s === 'Re10000' && datum.z >= 40 && datum.p >= 0.0005"}], "mark": {"type": "line", "color": "#0000ff", "strokeWidth": 4.5, "strokeJoin": "round", "strokeCap": "round"}},
{"data": {"name": "lines"}, "transform": [{"filter": "datum.s === 'Re6000' && datum.z >= 40 && datum.p >= 0.0005"}], "mark": {"type": "line", "color": "#ff0000", "strokeWidth": 5.5, "strokeDash": [0.5, 21], "strokeCap": "round"}},
{"data": {"name": "markers"}, "transform": [{"filter": "datum.s === 'Re10000' && datum.z >= 39.9 && datum.z <= 52 && datum.p >= 0.0005"}], "mark": {"type": "point", "shape": "M-1,-1L1,1M-1,1L1,-1", "color": "#0000ff", "filled": false, "strokeWidth": 1.6, "size": 400, "opacity": 1}},
{"data": {"name": "markers"}, "transform": [{"filter": "datum.s === 'Re6000' && datum.z >= 39.9 && datum.z <= 52 && datum.p >= 0.0005"}], "mark": {"type": "point", "shape": "square", "color": "#ff0000", "filled": false, "strokeWidth": 1.6, "size": 240, "opacity": 1}}
]
}
]
}
